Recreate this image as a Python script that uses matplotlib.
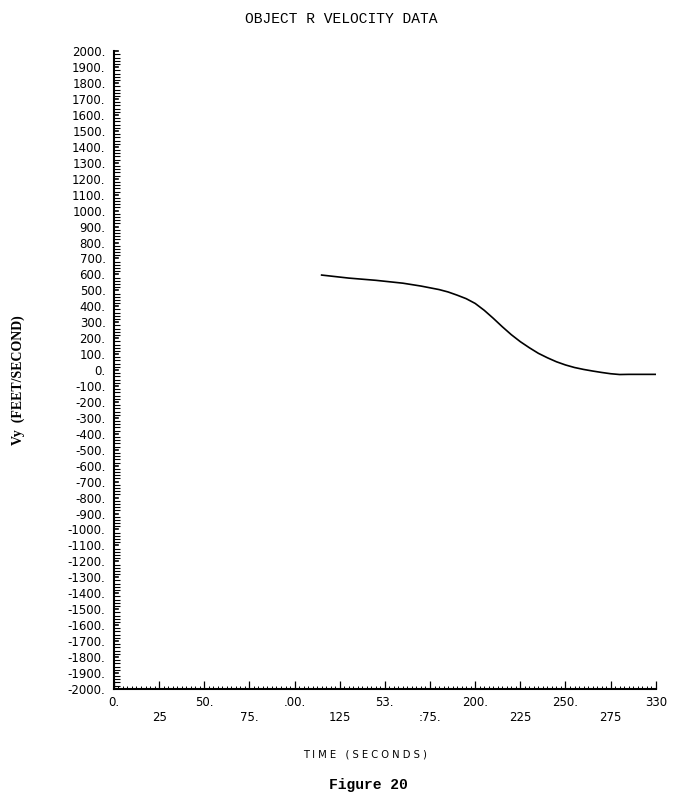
#!/usr/bin/env python3
'''
Object R velocity data, Figure 20
'''
import numpy as np
import matplotlib.pyplot as plt
from matplotlib.ticker import MultipleLocator, FixedLocator

plt.ioff()

# values
time_s = [115, 130, 145, 160, 170, 180, 185, 190, 195, 200, 205, 210,
          215, 220, 225, 230, 235, 240, 245, 250, 255, 260, 265, 270,
          275, 280, 285, 300]
vy_fps = [596, 577, 563, 545, 527, 505, 490, 470, 448, 418, 375, 325,
          272, 222, 178, 140, 105, 77, 52, 32, 16, 4, -6, -15,
          -23, -28, -27, -27]

x_major = [0, 50, 100, 150, 200, 250, 300]
x_major_labels = ['0.', '50.', '.00.', '53.', '200.', '250.', '330']
x_mid = [25, 75, 125, 175, 225, 275]
x_mid_labels = ['25', '75.', '125', ':75.', '225', '275']
y_ticks = list(range(-2000, 2001, 100))


fig = plt.figure(figsize=[6.74, 8.01], dpi=100)
ax = fig.add_axes([0.169, 0.140, 0.804, 0.796])

ax.plot(time_s, vy_fps, '-', color='k', lw=1.2)

ax.set_xlim(0, 300)
ax.set_ylim(-2000, 2000)
for s in ['top', 'right']:
    ax.spines[s].set_visible(False)
ax.spines['left'].set_linewidth(1.5)
ax.spines['bottom'].set_linewidth(1.5)

# y axis: major every 100, dense minor ticks
ax.yaxis.set_major_locator(FixedLocator(y_ticks))
ax.yaxis.set_minor_locator(MultipleLocator(20))
ax.set_yticklabels([f'{v}.' for v in y_ticks], family='DejaVu Sans',
                   fontsize=8.5)
ax.tick_params(axis='y', which='major', direction='out', length=0,
               pad=6)
ax.tick_params(axis='y', which='minor', direction='in', length=4,
               width=0.8)
for v in y_ticks:
    ax.plot([0, 2.5], [v, v], '-', color='k', lw=1.2, clip_on=False)

# x axis: major every 25, dotted minor ticks
ax.xaxis.set_major_locator(MultipleLocator(25))
ax.xaxis.set_minor_locator(MultipleLocator(2.5))
ax.set_xticklabels([])
ax.tick_params(axis='x', which='major', direction='in', length=6,
               width=0.9)
ax.tick_params(axis='x', which='minor', direction='in', length=2,
               width=0.7)

for x, lab in zip(x_major, x_major_labels):
    ax.text(x, -2088, lab, ha='center', va='center', fontsize=8.5,
            family='DejaVu Sans')
for x, lab in zip(x_mid, x_mid_labels):
    ax.text(x, -2182, lab, ha='center', va='center', fontsize=8.5,
            family='DejaVu Sans')

fig.text(0.507, 0.985, 'OBJECT R VELOCITY DATA', ha='center', va='top',
         family='Liberation Mono', fontsize=10.5)
fig.text(0.027, 0.525, 'Vy  (FEET/SECOND)', rotation=90, ha='center',
         va='center', family='Liberation Serif', fontsize=10,
         fontweight='bold')
fig.text(0.542, 0.058, 'T I M E   ( S E C O N D S )', ha='center',
         va='center', family='DejaVu Sans', fontsize=7.2)
fig.text(0.546, 0.020, 'Figure 20', ha='center', va='center',
         family='Liberation Mono', fontsize=10.5, fontweight='bold')

fig.savefig('out.png', dpi=100)
plt.close(fig)
